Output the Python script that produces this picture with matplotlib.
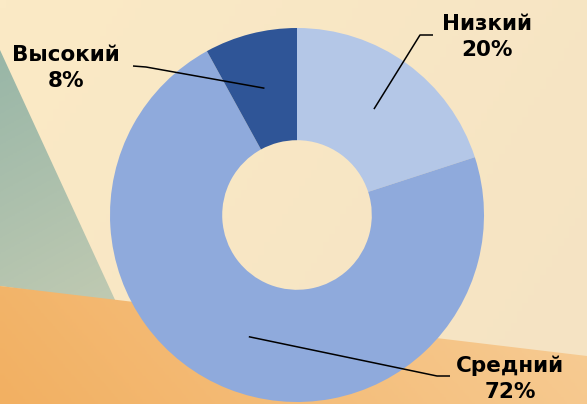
import numpy as np
import matplotlib
matplotlib.use('Agg')
import matplotlib.pyplot as plt
from matplotlib.colors import LinearSegmentedColormap
from matplotlib.patches import Polygon

# data
categories = ['Низкий', 'Средний', 'Высокий']
shares = [20, 72, 8]
colors = ['#B4C7E7', '#8FAADC', '#2F5597']

# label placement (figure pixels): text centre, elbow start, elbow end
label_pos = {
    'Низкий': ((487, 37), (433, 35), (420, 35)),
    'Средний': ((510, 379), (450, 376), (437, 376)),
    'Высокий': ((66, 68), (133, 66), (146, 67)),
}

W, H = 587, 404
fig = plt.figure(figsize=(W / 100, H / 100), dpi=100)

# background
bg = fig.add_axes([0, 0, 1, 1])
bg.axis('off')

yy, xx = np.mgrid[0:1:100j, 0:1:100j]
base = LinearSegmentedColormap.from_list('base', ['#FBEAC6', '#F5E3C3'])
bg.imshow((xx * 0.7 + yy * 0.3), cmap=base, extent=(0, W, H, 0), aspect='auto', zorder=0)

green = LinearSegmentedColormap.from_list('green', ['#98B6A7', '#C0CAB2'])
tri = Polygon([(0, 50), (116, 302), (0, 286)], closed=True, transform=bg.transData)
im = bg.imshow(yy * 0.8 + xx * 0.2, cmap=green, extent=(0, 116, 302, 50), aspect='auto', zorder=1)
im.set_clip_path(tri)

orange = LinearSegmentedColormap.from_list('orange', ['#F2B062', '#F7CD96'])
quad = Polygon([(0, 286), (W, 356), (W, H), (0, H)], closed=True, transform=bg.transData)
im2 = bg.imshow(xx * 0.85 + (1 - yy) * 0.15, cmap=orange, extent=(0, W, H, 286), aspect='auto', zorder=1)
im2.set_clip_path(quad)
bg.set_xlim(0, W)
bg.set_ylim(H, 0)

# donut
cx, cy, R = 297, 215, 187
ax = fig.add_axes([(cx - R) / W, (H - cy - R) / H, 2 * R / W, 2 * R / H])
ax.set_facecolor('none')
wedges, _ = ax.pie(shares, colors=colors, startangle=90, counterclock=False,
                   radius=1, wedgeprops=dict(width=0.6, linewidth=0))
ax.set_xlim(-1, 1)
ax.set_ylim(-1, 1)
ax.set_aspect('equal')
ax.axis('off')

# labels and leader lines on top
top = fig.add_axes([0, 0, 1, 1])
top.set_facecolor('none')
top.set_xlim(0, W)
top.set_ylim(H, 0)
top.axis('off')

for w, name, val in zip(wedges, categories, shares):
    ang = np.deg2rad((w.theta1 + w.theta2) / 2)
    px = cx + 0.70 * R * np.cos(ang)
    py = cy - 0.70 * R * np.sin(ang)
    (tx, ty), (e1x, e1y), (e2x, e2y) = label_pos[name]
    top.plot([px, e2x, e1x], [py, e2y, e1y], color='black', lw=1.1,
             solid_capstyle='butt')
    top.text(tx, ty, f'{name}\n{val}%', ha='center', va='center', fontsize=15.5,
             fontweight='bold', color='black', linespacing=1.4)

fig.savefig('out.png', dpi=100)
